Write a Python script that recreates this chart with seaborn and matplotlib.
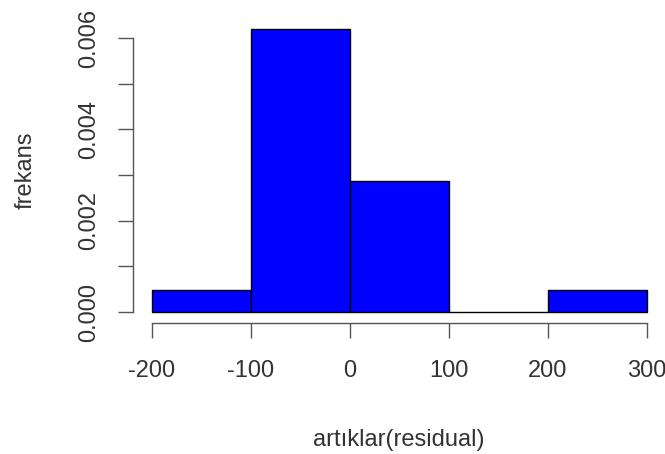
import matplotlib
matplotlib.use("Agg")
import matplotlib.pyplot as plt
import seaborn as sns
import pandas as pd

bin_edges = [-200, -100, 0, 100, 200, 300]
bin_centers = [-150, -50, 50, 150, 250]
densities = [0.000476, 0.00619, 0.00286, 0.0, 0.000476]
x_ticks = [-200, -100, 0, 100, 200, 300]
y_ticks = [0.000, 0.001, 0.002, 0.003, 0.004, 0.005, 0.006]
y_tick_labels = ["0.000", "", "0.002", "", "0.004", "", "0.006"]

sns.set_style("white")
plt.rcParams['font.family'] = ['Liberation Sans', 'DejaVu Sans']

df = pd.DataFrame({"x": bin_centers, "w": densities})

W, H = 665, 454
fig = plt.figure(figsize=(6.65, 4.54), dpi=100)
ax = fig.add_axes([152/W, 142/H, 495/W, 285.4/H])

sns.histplot(data=df, x="x", weights="w", bins=bin_edges, stat="count",
             color="#0000FF", alpha=1, edgecolor="black", linewidth=1, ax=ax)
for p in ax.patches:
    p.set_clip_on(False)

ax.set_xlim(-200, 300)
ax.set_ylim(0, 0.00625)
for s in ["top", "right"]:
    ax.spines[s].set_visible(False)
ax.spines["left"].set_position(("outward", 13.7))
ax.spines["bottom"].set_position(("outward", 8))
ax.spines["left"].set_bounds(0, 0.006)
ax.spines["bottom"].set_bounds(-200, 300)
for s in ["left", "bottom"]:
    ax.spines[s].set_color("#555555")
    ax.spines[s].set_linewidth(1)

fs = 17
ax.set_xticks(x_ticks)
ax.set_xticklabels([str(t) for t in x_ticks])
ax.set_yticks(y_ticks)
ax.set_yticklabels(y_tick_labels, rotation=90, va="center")
ax.tick_params(axis="both", direction="out", length=10.8, width=1, color="#555555",
               labelsize=fs, labelcolor="#333333", left=True, bottom=True)
ax.tick_params(axis="x", pad=16)
ax.tick_params(axis="y", pad=13)

ax.set_xlabel("artıklar(residual)", fontsize=fs, color="#333333", va="center")
ax.xaxis.set_label_coords(399/W, 1 - 440/H, transform=fig.transFigure)
ax.set_ylabel("frekans", fontsize=fs, color="#333333", va="center")
ax.yaxis.set_label_coords(26/W, 1 - 170/H, transform=fig.transFigure)

fig.savefig("out.png", dpi=100)
